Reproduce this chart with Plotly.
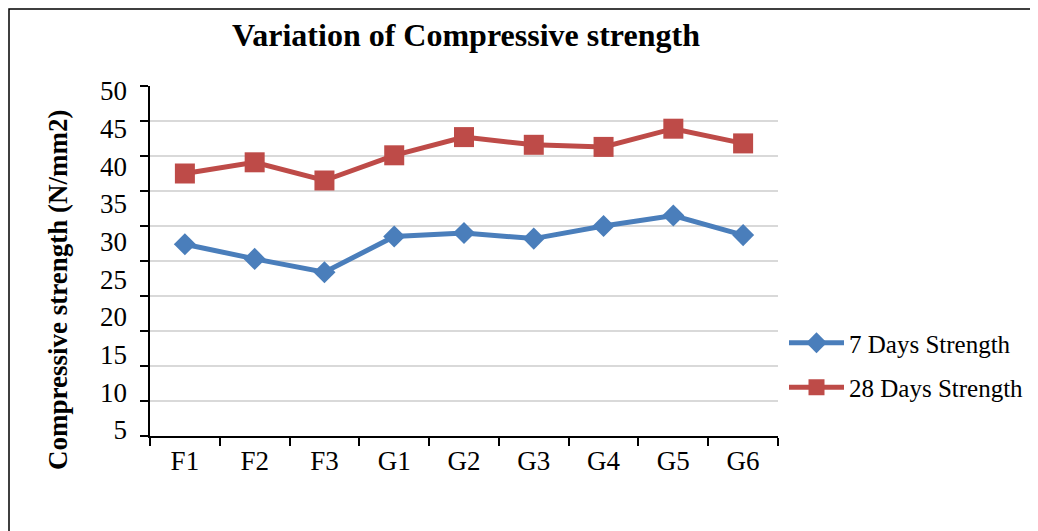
import plotly.graph_objects as go

categories = ["F1", "F2", "F3", "G1", "G2", "G3", "G4", "G5", "G6"]
strength_7 = [27.4, 25.3, 23.4, 28.5, 29.0, 28.2, 30.0, 31.5, 28.7]
strength_28 = [37.5, 39.1, 36.5, 40.1, 42.7, 41.6, 41.3, 43.9, 41.8]
y_tick_values = [5, 10, 15, 20, 25, 30, 35, 40, 45, 50]
y_tick_labels = ["5", "10", "15", "20", "25", "30", "35", "40", "45", "50"]
grid_values = [0, 5, 10, 15, 20, 25, 30, 35, 40, 45, 50]

FONT = "Liberation Serif, Times New Roman, serif"
BLUE = "#4A7EBB"
RED = "#BE4B48"

# page offset of the plot div (body margin)
OFF = 8
L, T, PW, PH = 150 - OFF, 86 - OFF, 628, 350
W, H = 1038, 531

fig = go.Figure()
fig.add_trace(go.Scatter(
    x=categories, y=strength_7, name="7 Days Strength", mode="lines+markers",
    line=dict(color=BLUE, width=5),
    marker=dict(symbol="diamond", size=17, color=BLUE),
    legendgroup="a",
))
fig.add_trace(go.Scatter(
    x=categories, y=strength_28, name="28 Days Strength", mode="lines+markers",
    line=dict(color=RED, width=5),
    marker=dict(symbol="square", size=20, color=RED),
    legendgroup="b",
))
# invisible trace to carry the label axis
fig.add_trace(go.Scatter(
    x=categories, y=strength_7, yaxis="y2", mode="markers",
    marker=dict(opacity=0), showlegend=False, hoverinfo="skip",
))

def px_x(px):
    return (px - 150) / PW

def px_y(py):
    return (436 - py) / PH

def cx(px):
    return (px - OFF) / W

def cy(py):
    return 1 - (py - OFF) / H

fig.update_layout(
    width=W, height=H,
    paper_bgcolor="white", plot_bgcolor="white",
    margin=dict(l=L, r=W - L - PW, t=T, b=H - T - PH, pad=0, autoexpand=False),
    font=dict(family=FONT, color="black", size=27),
    title=dict(text="<b>Variation of Compressive strength</b>", x=cx(466),
               xanchor="center", y=cy(35), yanchor="middle",
               font=dict(size=32, family=FONT)),
    xaxis=dict(
        type="category", showgrid=False, showline=True, linecolor="black", linewidth=1.5,
        ticks="outside", ticklen=8, tickcolor="black", tickwidth=1.5,
        tickson="boundaries", tickfont=dict(size=27, family=FONT),
        range=[-0.5, 8.5],
    ),
    yaxis=dict(
        range=[0, 50], tickvals=grid_values, showticklabels=False,
        showgrid=True, gridcolor="#D9D9D9", gridwidth=1.5,
        showline=True, linecolor="black", linewidth=1.5,
        ticks="outside", ticklen=8, tickcolor="black", tickwidth=1.5,
        zeroline=False,
    ),
    yaxis2=dict(
        overlaying="y", side="left", range=[4.2, 50.62],
        tickvals=y_tick_values, ticktext=y_tick_labels,
        showgrid=False, showline=False, zeroline=False, ticks="",
        ticklabelstandoff=22, tickfont=dict(size=27, family=FONT),
    ),
    legend=dict(
        xref="container", yref="container",
        x=cx(784), xanchor="left", y=cy(320), yanchor="top",
        font=dict(size=25, family=FONT), tracegroupgap=9,
        bgcolor="rgba(0,0,0,0)", itemwidth=55,
    ),
    annotations=[dict(
        text="<b>Compressive strength (N/mm2)</b>", textangle=-90,
        xref="paper", yref="paper", x=px_x(58), y=px_y(290),
        xanchor="center", yanchor="middle", showarrow=False,
        font=dict(size=27, family=FONT),
    )],
    shapes=[dict(
        type="path", xref="paper", yref="paper",
        path=f"M {px_x(9)} {px_y(560)} L {px_x(9)} {px_y(9)} L {px_x(1100)} {px_y(9)}",
        line=dict(color="black", width=1.5), layer="below",
    )],
    showlegend=True,
)

fig.write_html("out.html")
